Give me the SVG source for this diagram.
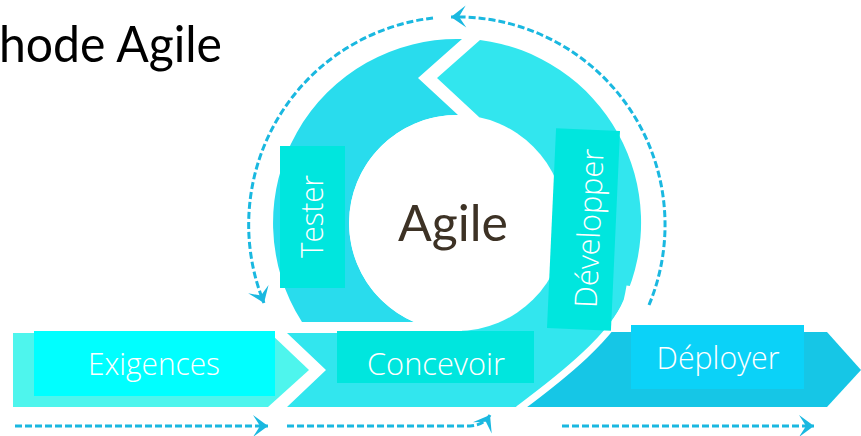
<svg xmlns="http://www.w3.org/2000/svg" width="861" height="436" viewBox="0 0 861 436">
  <style>
    .lbl { font-family: "Open Sans", "Liberation Sans", sans-serif; font-size: 31px; font-weight: 300; fill: #ffffff; text-anchor: middle; }
    .dash { fill: none; stroke: #1AB8E0; stroke-width: 3; stroke-dasharray: 7 3; }
    .box { fill: #00E6DE; }
  </style>
  <defs>
    <marker id="arr" markerUnits="userSpaceOnUse" markerWidth="26" markerHeight="30" viewBox="-22 -15 26 30" refX="0" refY="0" orient="auto">
      <path d="M-15,-11 L0,0 L-15,11 L-8,0 Z" fill="#1AB8E0"/>
    </marker>
  </defs>

  <rect x="0" y="0" width="861" height="436" fill="#ffffff"/>

  <text x="-1" y="62" font-family="Lato, 'Liberation Sans', sans-serif" font-size="51" fill="#000000" textLength="223" lengthAdjust="spacingAndGlyphs">hode Agile</text>

  <g id="shapes">
    <path id="deployer-arrow" d="M560,332 L827,332 L861,370 L827,407 L500,407 Z" fill="#16C6E6"/>
    <path id="cycle-light" d="M437,78 L480,40 A184,184 0 0 1 624,300 C610,335 560,375 517,407 L287,407 L326,370 L287,333 L462,333 L462,300 L479,117 Z" fill="#32E6EE"/>
    <path d="M627,285 A184,184 0 0 1 624,300 C610,335 560,375 517,407 L505,418" transform="translate(3,1)" fill="none" stroke="#ffffff" stroke-width="7"/>
    <path id="cycle-dark" d="M462,39 L418,78 L458,115 A108,108 0 0 0 414,322 L302,322 A184,184 0 0 1 462,39 Z" fill="#29DCED"/>
    <path id="exigences-arrow" d="M13,333 L270,333 L309,370 L268,407 L13,407 Z" fill="#4EF5ED"/>
    <circle cx="457" cy="223" r="108" fill="#ffffff"/>
  </g>

  <g id="connectors">
    <path class="dash" d="M649,305 A208,208 0 0 0 451,17" marker-end="url(#arr)"/>
    <path class="dash" d="M433,18 A208,208 0 0 0 264,303" marker-end="url(#arr)"/>
    <path class="dash" d="M15,426 L268,426" marker-end="url(#arr)"/>
    <path class="dash" d="M287,426 L470,426 Q484,425 490,415" marker-end="url(#arr)"/>
    <path class="dash" d="M562,426 L814,426" marker-end="url(#arr)"/>
  </g>

  <g id="agile">
    <text x="453" y="241" font-family="Lato, 'Open Sans', sans-serif" font-size="50" fill="#3D3225" text-anchor="middle" textLength="110" lengthAdjust="spacingAndGlyphs">Agile</text>
  </g>

  <g id="exigences">
    <rect x="34" y="331" width="241" height="65" fill="#00FFFF"/>
    <text class="lbl" x="154" y="375" textLength="132" lengthAdjust="spacingAndGlyphs">Exigences</text>
  </g>

  <g id="concevoir">
    <rect class="box" x="337" y="331" width="197" height="52"/>
    <text class="lbl" x="436" y="375" textLength="138" lengthAdjust="spacingAndGlyphs">Concevoir</text>
  </g>

  <g id="deployer">
    <rect x="631" y="325" width="173" height="64" fill="#0BD2F8"/>
    <text class="lbl" x="718" y="369" textLength="123" lengthAdjust="spacingAndGlyphs">Déployer</text>
  </g>

  <g id="tester">
    <rect class="box" x="280" y="146" width="65" height="142"/>
    <text class="lbl" transform="translate(323,216.5) rotate(-90)" x="0" y="0" textLength="83" lengthAdjust="spacingAndGlyphs">Tester</text>
  </g>

  <g id="developper" transform="rotate(2.6,583.5,229.5)">
    <rect class="box" x="551.5" y="129.5" width="64" height="200"/>
    <text class="lbl" transform="translate(600,228) rotate(-90)" x="0" y="0" textLength="159" lengthAdjust="spacingAndGlyphs">Développer</text>
  </g>
</svg>
